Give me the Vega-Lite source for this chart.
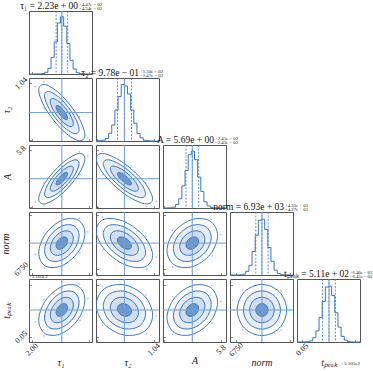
{
"$schema":"https://vega.github.io/schema/vega-lite/v6.json",
"autosize":{"type":"pad"},
"padding":{"left":0,"top":0,"right":16,"bottom":0},
"background":"white",
"columns":5,"spacing":4,"bounds":"flush",
"config":{
 "view":{"stroke":"#555","strokeWidth":1},
 "axis":{"domain":false,"grid":false,"tickColor":"#444","tickWidth":0.6,"tickSize":-2.5,"labelFont":"Liberation Serif","labelFontSize":8,"labelColor":"#222","labelAngle":-45,"labelAlign":"center","labelBaseline":"middle","titleFont":"Liberation Serif","titleFontSize":10,"titleFontWeight":"normal","titleFontStyle":"italic","titleColor":"#222","labelOverlap":false,"labelBound":false,"labelFlush":false},
 "axisX":{"labelPadding":10,"titlePadding":0},
 "axisY":{"labelPadding":10.5,"titlePadding":2},
 "text":{"font":"Liberation Serif","color":"#111"}
},
"datasets":{
"stats":[
{"p":"t1","kind":"q","v":2.1866},{"p":"t1","kind":"q","v":2.23},{"p":"t1","kind":"q","v":2.2747},{"p":"t1","kind":"t","v":2.23},
{"p":"t2","kind":"q","v":0.9633},{"p":"t2","kind":"q","v":0.978},{"p":"t2","kind":"q","v":0.993},{"p":"t2","kind":"t","v":0.978},
{"p":"A","kind":"q","v":5.6657},{"p":"A","kind":"q","v":5.69},{"p":"A","kind":"q","v":5.7145},{"p":"A","kind":"t","v":5.69},
{"p":"norm","kind":"q","v":6887.3},{"p":"norm","kind":"q","v":6930},{"p":"norm","kind":"q","v":6973.3},{"p":"norm","kind":"t","v":6930},
{"p":"tp","kind":"q","v":0.07055},{"p":"tp","kind":"q","v":0.077},{"p":"tp","kind":"q","v":0.0834},{"p":"tp","kind":"t","v":0.077}
],
"hist":[
{"p":"t1","x":1.98,"n":0},{"p":"t1","x":2.004,"n":0},{"p":"t1","x":2.028,"n":2},{"p":"t1","x":2.052,"n":3},{"p":"t1","x":2.076,"n":8},{"p":"t1","x":2.1,"n":30},{"p":"t1","x":2.124,"n":98},{"p":"t1","x":2.148,"n":290},{"p":"t1","x":2.172,"n":560},{"p":"t1","x":2.196,"n":890},{"p":"t1","x":2.22,"n":1000},{"p":"t1","x":2.244,"n":835},{"p":"t1","x":2.268,"n":530},{"p":"t1","x":2.292,"n":240},{"p":"t1","x":2.316,"n":88},{"p":"t1","x":2.34,"n":22},{"p":"t1","x":2.364,"n":6},{"p":"t1","x":2.388,"n":1},{"p":"t1","x":2.412,"n":0},{"p":"t1","x":2.436,"n":0},{"p":"t1","x":2.46,"n":0},
{"p":"t2","x":0.918,"n":2},{"p":"t2","x":0.92465,"n":3},{"p":"t2","x":0.9313,"n":15},{"p":"t2","x":0.93795,"n":44},{"p":"t2","x":0.9446,"n":135},{"p":"t2","x":0.95125,"n":280},{"p":"t2","x":0.9579,"n":540},{"p":"t2","x":0.96455,"n":775},{"p":"t2","x":0.9712,"n":985},{"p":"t2","x":0.97785,"n":960},{"p":"t2","x":0.9845,"n":820},{"p":"t2","x":0.99115,"n":540},{"p":"t2","x":0.9978,"n":310},{"p":"t2","x":1.00445,"n":130},{"p":"t2","x":1.0111,"n":55},{"p":"t2","x":1.01775,"n":14},{"p":"t2","x":1.0244,"n":5},{"p":"t2","x":1.03105,"n":1},{"p":"t2","x":1.0377,"n":0},{"p":"t2","x":1.04435,"n":0},{"p":"t2","x":1.051,"n":0},
{"p":"A","x":5.577,"n":0},{"p":"A","x":5.58915,"n":1},{"p":"A","x":5.6013,"n":4},{"p":"A","x":5.61345,"n":14},{"p":"A","x":5.6256,"n":60},{"p":"A","x":5.63775,"n":160},{"p":"A","x":5.6499,"n":385},{"p":"A","x":5.66205,"n":655},{"p":"A","x":5.6742,"n":930},{"p":"A","x":5.68635,"n":990},{"p":"A","x":5.6985,"n":845},{"p":"A","x":5.71065,"n":540},{"p":"A","x":5.7228,"n":290},{"p":"A","x":5.73495,"n":108},{"p":"A","x":5.7471,"n":37},{"p":"A","x":5.75925,"n":9},{"p":"A","x":5.7714,"n":2},{"p":"A","x":5.78355,"n":0},{"p":"A","x":5.7957,"n":0},{"p":"A","x":5.80785,"n":0},{"p":"A","x":5.82,"n":0},
{"p":"norm","x":6708,"n":0},{"p":"norm","x":6729.9,"n":0},{"p":"norm","x":6751.8,"n":1},{"p":"norm","x":6773.7,"n":4},{"p":"norm","x":6795.6,"n":15},{"p":"norm","x":6817.5,"n":64},{"p":"norm","x":6839.4,"n":170},{"p":"norm","x":6861.3,"n":410},{"p":"norm","x":6883.2,"n":695},{"p":"norm","x":6905.1,"n":955},{"p":"norm","x":6927,"n":975},{"p":"norm","x":6948.9,"n":795},{"p":"norm","x":6970.8,"n":480},{"p":"norm","x":6992.7,"n":240},{"p":"norm","x":7014.6,"n":85},{"p":"norm","x":7036.5,"n":27},{"p":"norm","x":7058.4,"n":5},{"p":"norm","x":7080.3,"n":1},{"p":"norm","x":7102.2,"n":0},{"p":"norm","x":7124.1,"n":0},{"p":"norm","x":7146,"n":0},
{"p":"tp","x":0.045,"n":0},{"p":"tp","x":0.04815,"n":0},{"p":"tp","x":0.0513,"n":2},{"p":"tp","x":0.05445,"n":5},{"p":"tp","x":0.0576,"n":20},{"p":"tp","x":0.06075,"n":75},{"p":"tp","x":0.0639,"n":195},{"p":"tp","x":0.06705,"n":430},{"p":"tp","x":0.0702,"n":705},{"p":"tp","x":0.07335,"n":960},{"p":"tp","x":0.0765,"n":975},{"p":"tp","x":0.07965,"n":810},{"p":"tp","x":0.0828,"n":510},{"p":"tp","x":0.08595,"n":260},{"p":"tp","x":0.0891,"n":98},{"p":"tp","x":0.09225,"n":33},{"p":"tp","x":0.0954,"n":7},{"p":"tp","x":0.09855,"n":1},{"p":"tp","x":0.1017,"n":0},{"p":"tp","x":0.10485,"n":0},{"p":"tp","x":0.108,"n":0}
],
"pts":[
{"pr":"12","x":2.428,"y":0.9244},{"pr":"12","x":2.3638,"y":0.9689},{"pr":"12","x":2.23,"y":1.0209},{"pr":"12","x":2.0931,"y":1.0429},{"pr":"12","x":2.0276,"y":1.0328},{"pr":"12","x":2.0947,"y":0.9872},{"pr":"12","x":2.23,"y":0.936},{"pr":"12","x":2.3684,"y":0.9124},
{"pr":"13","x":2.428,"y":5.7778},{"pr":"13","x":2.3638,"y":5.7939},{"pr":"13","x":2.23,"y":5.7603},{"pr":"13","x":2.0931,"y":5.6748},{"pr":"13","x":2.0276,"y":5.6002},{"pr":"13","x":2.0947,"y":5.5849},{"pr":"13","x":2.23,"y":5.6212},{"pr":"13","x":2.3684,"y":5.7054},
{"pr":"23","x":1.0451,"y":5.6022},{"pr":"23","x":1.0233,"y":5.6752},{"pr":"23","x":0.978,"y":5.7603},{"pr":"23","x":0.9316,"y":5.7963},{"pr":"23","x":0.9322,"y":5.705},{"pr":"23","x":0.978,"y":5.6212},{"pr":"23","x":1.0249,"y":5.5825},
{"pr":"14","x":2.428,"y":7007.4},{"pr":"14","x":2.3638,"y":7102.1},{"pr":"14","x":2.23,"y":7119.2},{"pr":"14","x":2.0931,"y":6999.1},{"pr":"14","x":2.0276,"y":6850.9},{"pr":"14","x":2.0947,"y":6755.9},{"pr":"14","x":2.23,"y":6744.8},{"pr":"14","x":2.3684,"y":6860.1},
{"pr":"24","x":1.0451,"y":6833.2},{"pr":"24","x":1.0233,"y":6977.9},{"pr":"24","x":0.978,"y":7108.8},{"pr":"24","x":0.9316,"y":7112.7},{"pr":"24","x":0.9322,"y":6881.6},{"pr":"24","x":0.978,"y":6755},{"pr":"24","x":1.0249,"y":6745.2},
{"pr":"34","x":5.7998,"y":6988.1},{"pr":"34","x":5.7642,"y":7093.9},{"pr":"34","x":5.69,"y":7126.9},{"pr":"34","x":5.6141,"y":7017.5},{"pr":"34","x":5.5778,"y":6870.7},{"pr":"34","x":5.615,"y":6764.2},{"pr":"34","x":5.69,"y":6737.2},{"pr":"34","x":5.7668,"y":6841.5},
{"pr":"15","x":2.428,"y":0.08852},{"pr":"15","x":2.3638,"y":0.10262},{"pr":"15","x":2.23,"y":0.10516},{"pr":"15","x":2.0931,"y":0.08728},{"pr":"15","x":2.0276,"y":0.06522},{"pr":"15","x":2.0947,"y":0.05108},{"pr":"15","x":2.23,"y":0.04943},{"pr":"15","x":2.3684,"y":0.0666},
{"pr":"25","x":1.0451,"y":0.07124},{"pr":"25","x":1.0233,"y":0.09217},{"pr":"25","x":0.978,"y":0.1071},{"pr":"25","x":0.9316,"y":0.10049},{"pr":"25","x":0.9322,"y":0.06165},{"pr":"25","x":0.978,"y":0.04753},{"pr":"25","x":1.0249,"y":0.05324},
{"pr":"35","x":5.7998,"y":0.08564},{"pr":"35","x":5.7642,"y":0.1014},{"pr":"35","x":5.69,"y":0.1063},{"pr":"35","x":5.6141,"y":0.09002},{"pr":"35","x":5.5778,"y":0.06817},{"pr":"35","x":5.615,"y":0.05232},{"pr":"35","x":5.69,"y":0.04831},{"pr":"35","x":5.7668,"y":0.06383},
{"pr":"45","x":7123.5,"y":0.077},{"pr":"45","x":7060.8,"y":0.09646},{"pr":"45","x":6930,"y":0.10772},{"pr":"45","x":6796.2,"y":0.09691},{"pr":"45","x":6732.2,"y":0.077},{"pr":"45","x":6797.7,"y":0.05732},{"pr":"45","x":6930,"y":0.04692},{"pr":"45","x":7065.3,"y":0.05686}
],
"ell":[
{"pr":"12","r":1,"k":0,"x":2.274,"y":0.9661},{"pr":"12","r":1,"k":1,"x":2.2611,"y":0.9759},{"pr":"12","r":1,"k":2,"x":2.23,"y":0.9869},{"pr":"12","r":1,"k":3,"x":2.1989,"y":0.9928},{"pr":"12","r":1,"k":4,"x":2.186,"y":0.9899},{"pr":"12","r":1,"k":5,"x":2.1989,"y":0.9801},{"pr":"12","r":1,"k":6,"x":2.23,"y":0.9691},{"pr":"12","r":1,"k":7,"x":2.2611,"y":0.9633},
{"pr":"12","r":2,"k":0,"x":2.318,"y":0.9542},{"pr":"12","r":2,"k":1,"x":2.2922,"y":0.9738},{"pr":"12","r":2,"k":2,"x":2.23,"y":0.9959},{"pr":"12","r":2,"k":3,"x":2.1678,"y":1.0075},{"pr":"12","r":2,"k":4,"x":2.142,"y":1.0018},{"pr":"12","r":2,"k":5,"x":2.1678,"y":0.9822},{"pr":"12","r":2,"k":6,"x":2.23,"y":0.9601},{"pr":"12","r":2,"k":7,"x":2.2922,"y":0.9485},
{"pr":"12","r":3,"k":0,"x":2.362,"y":0.9422},{"pr":"12","r":3,"k":1,"x":2.3233,"y":0.9717},{"pr":"12","r":3,"k":2,"x":2.23,"y":1.0048},{"pr":"12","r":3,"k":3,"x":2.1367,"y":1.0223},{"pr":"12","r":3,"k":4,"x":2.098,"y":1.0138},{"pr":"12","r":3,"k":5,"x":2.1367,"y":0.9843},{"pr":"12","r":3,"k":6,"x":2.23,"y":0.9512},{"pr":"12","r":3,"k":7,"x":2.3233,"y":0.9338},
{"pr":"12","r":4,"k":0,"x":2.406,"y":0.9303},{"pr":"12","r":4,"k":1,"x":2.3544,"y":0.9696},{"pr":"12","r":4,"k":2,"x":2.23,"y":1.0138},{"pr":"12","r":4,"k":3,"x":2.1056,"y":1.037},{"pr":"12","r":4,"k":4,"x":2.054,"y":1.0257},{"pr":"12","r":4,"k":5,"x":2.1056,"y":0.9864},{"pr":"12","r":4,"k":6,"x":2.23,"y":0.9422},{"pr":"12","r":4,"k":7,"x":2.3544,"y":0.919},
{"pr":"13","r":1,"k":0,"x":2.274,"y":5.7095},{"pr":"13","r":1,"k":1,"x":2.2611,"y":5.7142},{"pr":"13","r":1,"k":2,"x":2.23,"y":5.7046},{"pr":"13","r":1,"k":3,"x":2.1989,"y":5.6866},{"pr":"13","r":1,"k":4,"x":2.186,"y":5.6705},{"pr":"13","r":1,"k":5,"x":2.1989,"y":5.6658},{"pr":"13","r":1,"k":6,"x":2.23,"y":5.6754},{"pr":"13","r":1,"k":7,"x":2.2611,"y":5.6935},
{"pr":"13","r":2,"k":0,"x":2.318,"y":5.729},{"pr":"13","r":2,"k":1,"x":2.2922,"y":5.7383},{"pr":"13","r":2,"k":2,"x":2.23,"y":5.7193},{"pr":"13","r":2,"k":3,"x":2.1678,"y":5.6831},{"pr":"13","r":2,"k":4,"x":2.142,"y":5.651},{"pr":"13","r":2,"k":5,"x":2.1678,"y":5.6417},{"pr":"13","r":2,"k":6,"x":2.23,"y":5.6607},{"pr":"13","r":2,"k":7,"x":2.2922,"y":5.6969},
{"pr":"13","r":3,"k":0,"x":2.362,"y":5.7486},{"pr":"13","r":3,"k":1,"x":2.3233,"y":5.7625},{"pr":"13","r":3,"k":2,"x":2.23,"y":5.7339},{"pr":"13","r":3,"k":3,"x":2.1367,"y":5.6797},{"pr":"13","r":3,"k":4,"x":2.098,"y":5.6314},{"pr":"13","r":3,"k":5,"x":2.1367,"y":5.6175},{"pr":"13","r":3,"k":6,"x":2.23,"y":5.6461},{"pr":"13","r":3,"k":7,"x":2.3233,"y":5.7004},
{"pr":"13","r":4,"k":0,"x":2.406,"y":5.7681},{"pr":"13","r":4,"k":1,"x":2.3544,"y":5.7866},{"pr":"13","r":4,"k":2,"x":2.23,"y":5.7486},{"pr":"13","r":4,"k":3,"x":2.1056,"y":5.6762},{"pr":"13","r":4,"k":4,"x":2.054,"y":5.6119},{"pr":"13","r":4,"k":5,"x":2.1056,"y":5.5934},{"pr":"13","r":4,"k":6,"x":2.23,"y":5.6314},{"pr":"13","r":4,"k":7,"x":2.3544,"y":5.7038},
{"pr":"23","r":1,"k":0,"x":0.9929,"y":5.6705},{"pr":"23","r":1,"k":1,"x":0.9885,"y":5.6866},{"pr":"23","r":1,"k":2,"x":0.978,"y":5.7046},{"pr":"23","r":1,"k":3,"x":0.9675,"y":5.7142},{"pr":"23","r":1,"k":4,"x":0.9631,"y":5.7095},{"pr":"23","r":1,"k":5,"x":0.9675,"y":5.6934},{"pr":"23","r":1,"k":6,"x":0.978,"y":5.6754},{"pr":"23","r":1,"k":7,"x":0.9885,"y":5.6658},
{"pr":"23","r":2,"k":0,"x":1.0078,"y":5.651},{"pr":"23","r":2,"k":1,"x":0.9991,"y":5.6831},{"pr":"23","r":2,"k":2,"x":0.978,"y":5.7193},{"pr":"23","r":2,"k":3,"x":0.9569,"y":5.7383},{"pr":"23","r":2,"k":4,"x":0.9482,"y":5.729},{"pr":"23","r":2,"k":5,"x":0.9569,"y":5.6969},{"pr":"23","r":2,"k":6,"x":0.978,"y":5.6607},{"pr":"23","r":2,"k":7,"x":0.9991,"y":5.6417},
{"pr":"23","r":3,"k":0,"x":1.0227,"y":5.6314},{"pr":"23","r":3,"k":1,"x":1.0096,"y":5.6797},{"pr":"23","r":3,"k":2,"x":0.978,"y":5.7339},{"pr":"23","r":3,"k":3,"x":0.9464,"y":5.7625},{"pr":"23","r":3,"k":4,"x":0.9333,"y":5.7486},{"pr":"23","r":3,"k":5,"x":0.9464,"y":5.7004},{"pr":"23","r":3,"k":6,"x":0.978,"y":5.6461},{"pr":"23","r":3,"k":7,"x":1.0096,"y":5.6175},
{"pr":"23","r":4,"k":0,"x":1.0376,"y":5.6119},{"pr":"23","r":4,"k":1,"x":1.0202,"y":5.6762},{"pr":"23","r":4,"k":2,"x":0.978,"y":5.7486},{"pr":"23","r":4,"k":3,"x":0.9358,"y":5.7866},{"pr":"23","r":4,"k":4,"x":0.9184,"y":5.7681},{"pr":"23","r":4,"k":5,"x":0.9358,"y":5.7038},{"pr":"23","r":4,"k":6,"x":0.978,"y":5.6314},{"pr":"23","r":4,"k":7,"x":1.0202,"y":5.5934},
{"pr":"14","r":1,"k":0,"x":2.274,"y":6947.2},{"pr":"14","r":1,"k":1,"x":2.2611,"y":6970},{"pr":"14","r":1,"k":2,"x":2.23,"y":6969.4},{"pr":"14","r":1,"k":3,"x":2.1989,"y":6945.7},{"pr":"14","r":1,"k":4,"x":2.186,"y":6912.8},{"pr":"14","r":1,"k":5,"x":2.1989,"y":6890},{"pr":"14","r":1,"k":6,"x":2.23,"y":6890.6},{"pr":"14","r":1,"k":7,"x":2.2611,"y":6914.3},
{"pr":"14","r":2,"k":0,"x":2.318,"y":6964.4},{"pr":"14","r":2,"k":1,"x":2.2922,"y":7010.1},{"pr":"14","r":2,"k":2,"x":2.23,"y":7008.8},{"pr":"14","r":2,"k":3,"x":2.1678,"y":6961.4},{"pr":"14","r":2,"k":4,"x":2.142,"y":6895.6},{"pr":"14","r":2,"k":5,"x":2.1678,"y":6849.9},{"pr":"14","r":2,"k":6,"x":2.23,"y":6851.2},{"pr":"14","r":2,"k":7,"x":2.2922,"y":6898.6},
{"pr":"14","r":3,"k":0,"x":2.362,"y":6981.6},{"pr":"14","r":3,"k":1,"x":2.3233,"y":7050.1},{"pr":"14","r":3,"k":2,"x":2.23,"y":7048.2},{"pr":"14","r":3,"k":3,"x":2.1367,"y":6977.1},{"pr":"14","r":3,"k":4,"x":2.098,"y":6878.4},{"pr":"14","r":3,"k":5,"x":2.1367,"y":6809.9},{"pr":"14","r":3,"k":6,"x":2.23,"y":6811.8},{"pr":"14","r":3,"k":7,"x":2.3233,"y":6882.9},
{"pr":"14","r":4,"k":0,"x":2.406,"y":6998.8},{"pr":"14","r":4,"k":1,"x":2.3544,"y":7090.1},{"pr":"14","r":4,"k":2,"x":2.23,"y":7087.6},{"pr":"14","r":4,"k":3,"x":2.1056,"y":6992.8},{"pr":"14","r":4,"k":4,"x":2.054,"y":6861.2},{"pr":"14","r":4,"k":5,"x":2.1056,"y":6769.9},{"pr":"14","r":4,"k":6,"x":2.23,"y":6772.4},{"pr":"14","r":4,"k":7,"x":2.3544,"y":6867.2},
{"pr":"24","r":1,"k":0,"x":0.9929,"y":6908.5},{"pr":"24","r":1,"k":1,"x":0.9885,"y":6941.1},{"pr":"24","r":1,"k":2,"x":0.978,"y":6967.2},{"pr":"24","r":1,"k":3,"x":0.9675,"y":6971.5},{"pr":"24","r":1,"k":4,"x":0.9631,"y":6951.5},{"pr":"24","r":1,"k":5,"x":0.9675,"y":6918.9},{"pr":"24","r":1,"k":6,"x":0.978,"y":6892.8},{"pr":"24","r":1,"k":7,"x":0.9885,"y":6888.5},
{"pr":"24","r":2,"k":0,"x":1.0078,"y":6887},{"pr":"24","r":2,"k":1,"x":0.9991,"y":6952.3},{"pr":"24","r":2,"k":2,"x":0.978,"y":7004.5},{"pr":"24","r":2,"k":3,"x":0.9569,"y":7013.1},{"pr":"24","r":2,"k":4,"x":0.9482,"y":6973},{"pr":"24","r":2,"k":5,"x":0.9569,"y":6907.7},{"pr":"24","r":2,"k":6,"x":0.978,"y":6855.5},{"pr":"24","r":2,"k":7,"x":0.9991,"y":6846.9},
{"pr":"24","r":3,"k":0,"x":1.0227,"y":6865.5},{"pr":"24","r":3,"k":1,"x":1.0096,"y":6963.4},{"pr":"24","r":3,"k":2,"x":0.978,"y":7041.7},{"pr":"24","r":3,"k":3,"x":0.9464,"y":7054.6},{"pr":"24","r":3,"k":4,"x":0.9333,"y":6994.5},{"pr":"24","r":3,"k":5,"x":0.9464,"y":6896.6},{"pr":"24","r":3,"k":6,"x":0.978,"y":6818.3},{"pr":"24","r":3,"k":7,"x":1.0096,"y":6805.4},
{"pr":"24","r":4,"k":0,"x":1.0376,"y":6844},{"pr":"24","r":4,"k":1,"x":1.0202,"y":6974.5},{"pr":"24","r":4,"k":2,"x":0.978,"y":7079},{"pr":"24","r":4,"k":3,"x":0.9358,"y":7096.1},{"pr":"24","r":4,"k":4,"x":0.9184,"y":7016},{"pr":"24","r":4,"k":5,"x":0.9358,"y":6885.5},{"pr":"24","r":4,"k":6,"x":0.978,"y":6781},{"pr":"24","r":4,"k":7,"x":1.0202,"y":6763.9},
{"pr":"34","r":1,"k":0,"x":5.7144,"y":6942.9},{"pr":"34","r":1,"k":1,"x":5.7073,"y":6968.1},{"pr":"34","r":1,"k":2,"x":5.69,"y":6971},{"pr":"34","r":1,"k":3,"x":5.6728,"y":6949.9},{"pr":"34","r":1,"k":4,"x":5.6656,"y":6917.1},{"pr":"34","r":1,"k":5,"x":5.6728,"y":6891.9},{"pr":"34","r":1,"k":6,"x":5.69,"y":6889},{"pr":"34","r":1,"k":7,"x":5.7073,"y":6910.1},
{"pr":"34","r":2,"k":0,"x":5.7388,"y":6955.8},{"pr":"34","r":2,"k":1,"x":5.7245,"y":7006.2},{"pr":"34","r":2,"k":2,"x":5.69,"y":7012},{"pr":"34","r":2,"k":3,"x":5.6555,"y":6969.8},{"pr":"34","r":2,"k":4,"x":5.6412,"y":6904.2},{"pr":"34","r":2,"k":5,"x":5.6555,"y":6853.8},{"pr":"34","r":2,"k":6,"x":5.69,"y":6848},{"pr":"34","r":2,"k":7,"x":5.7245,"y":6890.2},
{"pr":"34","r":3,"k":0,"x":5.7632,"y":6968.7},{"pr":"34","r":3,"k":1,"x":5.7418,"y":7044.4},{"pr":"34","r":3,"k":2,"x":5.69,"y":7053.1},{"pr":"34","r":3,"k":3,"x":5.6383,"y":6989.6},{"pr":"34","r":3,"k":4,"x":5.6168,"y":6891.3},{"pr":"34","r":3,"k":5,"x":5.6383,"y":6815.6},{"pr":"34","r":3,"k":6,"x":5.69,"y":6806.9},{"pr":"34","r":3,"k":7,"x":5.7418,"y":6870.4},
{"pr":"34","r":4,"k":0,"x":5.7876,"y":6981.6},{"pr":"34","r":4,"k":1,"x":5.759,"y":7082.5},{"pr":"34","r":4,"k":2,"x":5.69,"y":7094.1},{"pr":"34","r":4,"k":3,"x":5.621,"y":7009.5},{"pr":"34","r":4,"k":4,"x":5.5924,"y":6878.4},{"pr":"34","r":4,"k":5,"x":5.621,"y":6777.5},{"pr":"34","r":4,"k":6,"x":5.69,"y":6765.9},{"pr":"34","r":4,"k":7,"x":5.759,"y":6850.5},
{"pr":"15","r":1,"k":0,"x":2.274,"y":0.07956},{"pr":"15","r":1,"k":1,"x":2.2611,"y":0.08296},{"pr":"15","r":1,"k":2,"x":2.23,"y":0.08287},{"pr":"15","r":1,"k":3,"x":2.1989,"y":0.07934},{"pr":"15","r":1,"k":4,"x":2.186,"y":0.07444},{"pr":"15","r":1,"k":5,"x":2.1989,"y":0.07104},{"pr":"15","r":1,"k":6,"x":2.23,"y":0.07113},{"pr":"15","r":1,"k":7,"x":2.2611,"y":0.07466},
{"pr":"15","r":2,"k":0,"x":2.318,"y":0.08212},{"pr":"15","r":2,"k":1,"x":2.2922,"y":0.08892},{"pr":"15","r":2,"k":2,"x":2.23,"y":0.08873},{"pr":"15","r":2,"k":3,"x":2.1678,"y":0.08167},{"pr":"15","r":2,"k":4,"x":2.142,"y":0.07188},{"pr":"15","r":2,"k":5,"x":2.1678,"y":0.06508},{"pr":"15","r":2,"k":6,"x":2.23,"y":0.06527},{"pr":"15","r":2,"k":7,"x":2.2922,"y":0.07233},
{"pr":"15","r":3,"k":0,"x":2.362,"y":0.08468},{"pr":"15","r":3,"k":1,"x":2.3233,"y":0.09487},{"pr":"15","r":3,"k":2,"x":2.23,"y":0.0946},{"pr":"15","r":3,"k":3,"x":2.1367,"y":0.08401},{"pr":"15","r":3,"k":4,"x":2.098,"y":0.06932},{"pr":"15","r":3,"k":5,"x":2.1367,"y":0.05913},{"pr":"15","r":3,"k":6,"x":2.23,"y":0.0594},{"pr":"15","r":3,"k":7,"x":2.3233,"y":0.06999},
{"pr":"15","r":4,"k":0,"x":2.406,"y":0.08724},{"pr":"15","r":4,"k":1,"x":2.3544,"y":0.10083},{"pr":"15","r":4,"k":2,"x":2.23,"y":0.10046},{"pr":"15","r":4,"k":3,"x":2.1056,"y":0.08635},{"pr":"15","r":4,"k":4,"x":2.054,"y":0.06676},{"pr":"15","r":4,"k":5,"x":2.1056,"y":0.05317},{"pr":"15","r":4,"k":6,"x":2.23,"y":0.05354},{"pr":"15","r":4,"k":7,"x":2.3544,"y":0.06765},
{"pr":"25","r":1,"k":0,"x":0.9929,"y":0.07572},{"pr":"25","r":1,"k":1,"x":0.9885,"y":0.08053},{"pr":"25","r":1,"k":2,"x":0.978,"y":0.08327},{"pr":"25","r":1,"k":3,"x":0.9675,"y":0.08234},{"pr":"25","r":1,"k":4,"x":0.9631,"y":0.07828},{"pr":"25","r":1,"k":5,"x":0.9675,"y":0.07347},{"pr":"25","r":1,"k":6,"x":0.978,"y":0.07073},{"pr":"25","r":1,"k":7,"x":0.9885,"y":0.07166},
{"pr":"25","r":2,"k":0,"x":1.0078,"y":0.07444},{"pr":"25","r":2,"k":1,"x":0.9991,"y":0.08406},{"pr":"25","r":2,"k":2,"x":0.978,"y":0.08954},{"pr":"25","r":2,"k":3,"x":0.9569,"y":0.08768},{"pr":"25","r":2,"k":4,"x":0.9482,"y":0.07956},{"pr":"25","r":2,"k":5,"x":0.9569,"y":0.06994},{"pr":"25","r":2,"k":6,"x":0.978,"y":0.06446},{"pr":"25","r":2,"k":7,"x":0.9991,"y":0.06632},
{"pr":"25","r":3,"k":0,"x":1.0227,"y":0.07316},{"pr":"25","r":3,"k":1,"x":1.0096,"y":0.08759},{"pr":"25","r":3,"k":2,"x":0.978,"y":0.09581},{"pr":"25","r":3,"k":3,"x":0.9464,"y":0.09302},{"pr":"25","r":3,"k":4,"x":0.9333,"y":0.08084},{"pr":"25","r":3,"k":5,"x":0.9464,"y":0.06641},{"pr":"25","r":3,"k":6,"x":0.978,"y":0.05819},{"pr":"25","r":3,"k":7,"x":1.0096,"y":0.06098},
{"pr":"25","r":4,"k":0,"x":1.0376,"y":0.07188},{"pr":"25","r":4,"k":1,"x":1.0202,"y":0.09112},{"pr":"25","r":4,"k":2,"x":0.978,"y":0.10208},{"pr":"25","r":4,"k":3,"x":0.9358,"y":0.09836},{"pr":"25","r":4,"k":4,"x":0.9184,"y":0.08212},{"pr":"25","r":4,"k":5,"x":0.9358,"y":0.06288},{"pr":"25","r":4,"k":6,"x":0.978,"y":0.05192},{"pr":"25","r":4,"k":7,"x":1.0202,"y":0.05564},
{"pr":"35","r":1,"k":0,"x":5.7144,"y":0.07892},{"pr":"35","r":1,"k":1,"x":5.7073,"y":0.08267},{"pr":"35","r":1,"k":2,"x":5.69,"y":0.08311},{"pr":"35","r":1,"k":3,"x":5.6728,"y":0.07996},{"pr":"35","r":1,"k":4,"x":5.6656,"y":0.07508},{"pr":"35","r":1,"k":5,"x":5.6728,"y":0.07133},{"pr":"35","r":1,"k":6,"x":5.69,"y":0.0709},{"pr":"35","r":1,"k":7,"x":5.7073,"y":0.07404},
{"pr":"35","r":2,"k":0,"x":5.7388,"y":0.08084},{"pr":"35","r":2,"k":1,"x":5.7245,"y":0.08835},{"pr":"35","r":2,"k":2,"x":5.69,"y":0.08921},{"pr":"35","r":2,"k":3,"x":5.6555,"y":0.08292},{"pr":"35","r":2,"k":4,"x":5.6412,"y":0.07316},{"pr":"35","r":2,"k":5,"x":5.6555,"y":0.06565},{"pr":"35","r":2,"k":6,"x":5.69,"y":0.06479},{"pr":"35","r":2,"k":7,"x":5.7245,"y":0.07108},
{"pr":"35","r":3,"k":0,"x":5.7632,"y":0.08276},{"pr":"35","r":3,"k":1,"x":5.7418,"y":0.09402},{"pr":"35","r":3,"k":2,"x":5.69,"y":0.09532},{"pr":"35","r":3,"k":3,"x":5.6383,"y":0.08588},{"pr":"35","r":3,"k":4,"x":5.6168,"y":0.07124},{"pr":"35","r":3,"k":5,"x":5.6383,"y":0.05998},{"pr":"35","r":3,"k":6,"x":5.69,"y":0.05869},{"pr":"35","r":3,"k":7,"x":5.7418,"y":0.06812},
{"pr":"35","r":4,"k":0,"x":5.7876,"y":0.08468},{"pr":"35","r":4,"k":1,"x":5.759,"y":0.0997},{"pr":"35","r":4,"k":2,"x":5.69,"y":0.10142},{"pr":"35","r":4,"k":3,"x":5.621,"y":0.08884},{"pr":"35","r":4,"k":4,"x":5.5924,"y":0.06932},{"pr":"35","r":4,"k":5,"x":5.621,"y":0.0543},{"pr":"35","r":4,"k":6,"x":5.69,"y":0.05258},{"pr":"35","r":4,"k":7,"x":5.759,"y":0.06516},
{"pr":"45","r":1,"k":0,"x":6973,"y":0.077},{"pr":"45","r":1,"k":1,"x":6960.4,"y":0.08153},{"pr":"45","r":1,"k":2,"x":6930,"y":0.0834},{"pr":"45","r":1,"k":3,"x":6899.6,"y":0.08153},{"pr":"45","r":1,"k":4,"x":6887,"y":0.077},{"pr":"45","r":1,"k":5,"x":6899.6,"y":0.07248},{"pr":"45","r":1,"k":6,"x":6930,"y":0.0706},{"pr":"45","r":1,"k":7,"x":6960.4,"y":0.07248},
{"pr":"45","r":2,"k":0,"x":7016,"y":0.077},{"pr":"45","r":2,"k":1,"x":6990.8,"y":0.08605},{"pr":"45","r":2,"k":2,"x":6930,"y":0.0898},{"pr":"45","r":2,"k":3,"x":6869.2,"y":0.08605},{"pr":"45","r":2,"k":4,"x":6844,"y":0.077},{"pr":"45","r":2,"k":5,"x":6869.2,"y":0.06795},{"pr":"45","r":2,"k":6,"x":6930,"y":0.0642},{"pr":"45","r":2,"k":7,"x":6990.8,"y":0.06795},
{"pr":"45","r":3,"k":0,"x":7059,"y":0.077},{"pr":"45","r":3,"k":1,"x":7021.2,"y":0.09058},{"pr":"45","r":3,"k":2,"x":6930,"y":0.0962},{"pr":"45","r":3,"k":3,"x":6838.8,"y":0.09058},{"pr":"45","r":3,"k":4,"x":6801,"y":0.077},{"pr":"45","r":3,"k":5,"x":6838.8,"y":0.06343},{"pr":"45","r":3,"k":6,"x":6930,"y":0.0578},{"pr":"45","r":3,"k":7,"x":7021.2,"y":0.06343},
{"pr":"45","r":4,"k":0,"x":7102,"y":0.077},{"pr":"45","r":4,"k":1,"x":7051.6,"y":0.0951},{"pr":"45","r":4,"k":2,"x":6930,"y":0.1026},{"pr":"45","r":4,"k":3,"x":6808.4,"y":0.0951},{"pr":"45","r":4,"k":4,"x":6758,"y":0.077},{"pr":"45","r":4,"k":5,"x":6808.4,"y":0.0589},{"pr":"45","r":4,"k":6,"x":6930,"y":0.0514},{"pr":"45","r":4,"k":7,"x":7051.6,"y":0.0589}
]
},
"concat":[
{"width":63,"height":63,"layer":[
 {"data":{"name":"hist"},"transform":[{"filter":"datum.p=='t1'"}],"mark":{"type":"line","interpolate":"step-after","color":"#3b77bd","strokeWidth":1},"encoding":{"x":{"field":"x","type":"quantitative","scale":{"domain":[1.98,2.46],"nice":false,"zero":false},"axis":{"values":[2,2.0625,2.125,2.1875,2.25,2.3125,2.375,2.4375],"labels":false,"title":null}},"y":{"field":"n","type":"quantitative","scale":{"domain":[0,1100],"nice":false},"axis":null}}},
 {"data":{"name":"stats"},"transform":[{"filter":"datum.p=='t1'&&datum.kind=='q'"}],"mark":{"type":"rule","color":"#3b77bd","strokeDash":[2,1.5],"strokeWidth":0.8},"encoding":{"x":{"field":"v","type":"quantitative"}}},
 {"data":{"name":"stats"},"transform":[{"filter":"datum.p=='t1'&&datum.kind=='t'"}],"mark":{"type":"rule","color":"#6f9fd6","strokeWidth":1},"encoding":{"x":{"field":"v","type":"quantitative"}}},
 {"data":{"values":[{}]},"mark":{"type":"text","text":"τ₁ = 2.23e + 00","align":"right","baseline":"alphabetic","dy":-2,"fontSize":9.5},"encoding":{"x":{"datum":2.353,"type":"quantitative"},"y":{"datum":1100,"type":"quantitative"}}},
 {"data":{"values":[{}]},"mark":{"type":"text","text":"+4.47e − 02","align":"left","baseline":"alphabetic","dx":1,"dy":-5.5,"fontSize":4.8},"encoding":{"x":{"datum":2.353,"type":"quantitative"},"y":{"datum":1100,"type":"quantitative"}}},
 {"data":{"values":[{}]},"mark":{"type":"text","text":"−4.34e − 02","align":"left","baseline":"alphabetic","dx":1,"dy":-1,"fontSize":4.8},"encoding":{"x":{"datum":2.353,"type":"quantitative"},"y":{"datum":1100,"type":"quantitative"}}}
]},
{"width":63,"height":63,"data":{"values":[{}]},"mark":{"type":"point","opacity":0},"view":{"stroke":null}},
{"width":63,"height":63,"data":{"values":[{}]},"mark":{"type":"point","opacity":0},"view":{"stroke":null}},
{"width":63,"height":63,"data":{"values":[{}]},"mark":{"type":"point","opacity":0},"view":{"stroke":null}},
{"width":63,"height":63,"data":{"values":[{}]},"mark":{"type":"point","opacity":0},"view":{"stroke":null}},

{"width":63,"height":63,"layer":[
 {"data":{"name":"ell"},"transform":[{"filter":"datum.pr=='12'&&datum.r<=3"}],"mark":{"type":"line","interpolate":"cardinal-closed","fill":"#2f6cb3","strokeWidth":0,"opacity":0.12,"clip":true},"encoding":{"x":{"field":"x","type":"quantitative","scale":{"domain":[1.98,2.46],"nice":false,"zero":false},"axis":{"values":[2,2.0625,2.125,2.1875,2.25,2.3125,2.375,2.4375],"labels":false,"title":null}},"y":{"field":"y","type":"quantitative","scale":{"domain":[0.918,1.051],"nice":false,"zero":false},"axis":{"values":[0.92,0.94,0.96,0.98,1,1.02,1.04],"labelExpr":"datum.value==0.96||datum.value==1.04?format(datum.value,'.2f'):''","title":"τ₂"}},"detail":{"field":"r","type":"nominal"},"order":{"field":"k","type":"quantitative"}}},
 {"data":{"name":"ell"},"transform":[{"filter":"datum.pr=='12'&&datum.r==1"}],"mark":{"type":"line","interpolate":"cardinal-closed","fill":"#2f6cb3","strokeWidth":0,"opacity":0.55,"clip":true},"encoding":{"x":{"field":"x","type":"quantitative"},"y":{"field":"y","type":"quantitative"},"order":{"field":"k","type":"quantitative"}}},
 {"data":{"name":"pts"},"transform":[{"filter":"datum.pr=='12'"}],"mark":{"type":"circle","size":3,"color":"#5b8fcc","opacity":0.5,"clip":true},"encoding":{"x":{"field":"x","type":"quantitative"},"y":{"field":"y","type":"quantitative"}}},
 {"data":{"name":"ell"},"transform":[{"filter":"datum.pr=='12'"}],"mark":{"type":"line","interpolate":"cardinal-closed","color":"#3b77bd","strokeWidth":1,"clip":true},"encoding":{"x":{"field":"x","type":"quantitative"},"y":{"field":"y","type":"quantitative"},"detail":{"field":"r","type":"nominal"},"order":{"field":"k","type":"quantitative"}}},
 {"data":{"values":[{}]},"mark":{"type":"rule","color":"#6f9fd6","strokeWidth":1},"encoding":{"x":{"datum":2.23,"type":"quantitative"}}},
 {"data":{"values":[{}]},"mark":{"type":"rule","color":"#6f9fd6","strokeWidth":1},"encoding":{"y":{"datum":0.978,"type":"quantitative"}}}
]},
{"width":63,"height":63,"layer":[
 {"data":{"name":"hist"},"transform":[{"filter":"datum.p=='t2'"}],"mark":{"type":"line","interpolate":"step-after","color":"#3b77bd","strokeWidth":1},"encoding":{"x":{"field":"x","type":"quantitative","scale":{"domain":[0.918,1.051],"nice":false,"zero":false},"axis":{"values":[0.92,0.94,0.96,0.98,1,1.02,1.04],"labels":false,"title":null}},"y":{"field":"n","type":"quantitative","scale":{"domain":[0,1100],"nice":false},"axis":null}}},
 {"data":{"name":"stats"},"transform":[{"filter":"datum.p=='t2'&&datum.kind=='q'"}],"mark":{"type":"rule","color":"#3b77bd","strokeDash":[2,1.5],"strokeWidth":0.8},"encoding":{"x":{"field":"v","type":"quantitative"}}},
 {"data":{"name":"stats"},"transform":[{"filter":"datum.p=='t2'&&datum.kind=='t'"}],"mark":{"type":"rule","color":"#6f9fd6","strokeWidth":1},"encoding":{"x":{"field":"v","type":"quantitative"}}},
 {"data":{"values":[{}]},"mark":{"type":"text","text":"τ₂ = 9.78e − 01","align":"right","baseline":"alphabetic","dy":-2,"fontSize":9.5},"encoding":{"x":{"datum":1.0088,"type":"quantitative"},"y":{"datum":1100,"type":"quantitative"}}},
 {"data":{"values":[{}]},"mark":{"type":"text","text":"+1.50e − 02","align":"left","baseline":"alphabetic","dx":1,"dy":-5.5,"fontSize":4.8},"encoding":{"x":{"datum":1.0088,"type":"quantitative"},"y":{"datum":1100,"type":"quantitative"}}},
 {"data":{"values":[{}]},"mark":{"type":"text","text":"−1.47e − 02","align":"left","baseline":"alphabetic","dx":1,"dy":-1,"fontSize":4.8},"encoding":{"x":{"datum":1.0088,"type":"quantitative"},"y":{"datum":1100,"type":"quantitative"}}}
]},
{"width":63,"height":63,"data":{"values":[{}]},"mark":{"type":"point","opacity":0},"view":{"stroke":null}},
{"width":63,"height":63,"data":{"values":[{}]},"mark":{"type":"point","opacity":0},"view":{"stroke":null}},
{"width":63,"height":63,"data":{"values":[{}]},"mark":{"type":"point","opacity":0},"view":{"stroke":null}},

{"width":63,"height":63,"layer":[
 {"data":{"name":"ell"},"transform":[{"filter":"datum.pr=='13'&&datum.r<=3"}],"mark":{"type":"line","interpolate":"cardinal-closed","fill":"#2f6cb3","strokeWidth":0,"opacity":0.12,"clip":true},"encoding":{"x":{"field":"x","type":"quantitative","scale":{"domain":[1.98,2.46],"nice":false,"zero":false},"axis":{"values":[2,2.0625,2.125,2.1875,2.25,2.3125,2.375,2.4375],"labels":false,"title":null}},"y":{"field":"y","type":"quantitative","scale":{"domain":[5.577,5.82],"nice":false,"zero":false},"axis":{"values":[5.58,5.6,5.62,5.64,5.66,5.68,5.7,5.72,5.74,5.76,5.78,5.8],"labelExpr":"datum.value==5.6||datum.value==5.7||datum.value==5.8?format(datum.value,'.1f'):''","title":"A"}},"detail":{"field":"r","type":"nominal"},"order":{"field":"k","type":"quantitative"}}},
 {"data":{"name":"ell"},"transform":[{"filter":"datum.pr=='13'&&datum.r==1"}],"mark":{"type":"line","interpolate":"cardinal-closed","fill":"#2f6cb3","strokeWidth":0,"opacity":0.55,"clip":true},"encoding":{"x":{"field":"x","type":"quantitative"},"y":{"field":"y","type":"quantitative"},"order":{"field":"k","type":"quantitative"}}},
 {"data":{"name":"pts"},"transform":[{"filter":"datum.pr=='13'"}],"mark":{"type":"circle","size":3,"color":"#5b8fcc","opacity":0.5,"clip":true},"encoding":{"x":{"field":"x","type":"quantitative"},"y":{"field":"y","type":"quantitative"}}},
 {"data":{"name":"ell"},"transform":[{"filter":"datum.pr=='13'"}],"mark":{"type":"line","interpolate":"cardinal-closed","color":"#3b77bd","strokeWidth":1,"clip":true},"encoding":{"x":{"field":"x","type":"quantitative"},"y":{"field":"y","type":"quantitative"},"detail":{"field":"r","type":"nominal"},"order":{"field":"k","type":"quantitative"}}},
 {"data":{"values":[{}]},"mark":{"type":"rule","color":"#6f9fd6","strokeWidth":1},"encoding":{"x":{"datum":2.23,"type":"quantitative"}}},
 {"data":{"values":[{}]},"mark":{"type":"rule","color":"#6f9fd6","strokeWidth":1},"encoding":{"y":{"datum":5.69,"type":"quantitative"}}}
]},
{"width":63,"height":63,"layer":[
 {"data":{"name":"ell"},"transform":[{"filter":"datum.pr=='23'&&datum.r<=3"}],"mark":{"type":"line","interpolate":"cardinal-closed","fill":"#2f6cb3","strokeWidth":0,"opacity":0.12,"clip":true},"encoding":{"x":{"field":"x","type":"quantitative","scale":{"domain":[0.918,1.051],"nice":false,"zero":false},"axis":{"values":[0.92,0.94,0.96,0.98,1,1.02,1.04],"labels":false,"title":null}},"y":{"field":"y","type":"quantitative","scale":{"domain":[5.577,5.82],"nice":false,"zero":false},"axis":{"values":[5.58,5.6,5.62,5.64,5.66,5.68,5.7,5.72,5.74,5.76,5.78,5.8],"labels":false,"title":null}},"detail":{"field":"r","type":"nominal"},"order":{"field":"k","type":"quantitative"}}},
 {"data":{"name":"ell"},"transform":[{"filter":"datum.pr=='23'&&datum.r==1"}],"mark":{"type":"line","interpolate":"cardinal-closed","fill":"#2f6cb3","strokeWidth":0,"opacity":0.55,"clip":true},"encoding":{"x":{"field":"x","type":"quantitative"},"y":{"field":"y","type":"quantitative"},"order":{"field":"k","type":"quantitative"}}},
 {"data":{"name":"pts"},"transform":[{"filter":"datum.pr=='23'"}],"mark":{"type":"circle","size":3,"color":"#5b8fcc","opacity":0.5,"clip":true},"encoding":{"x":{"field":"x","type":"quantitative"},"y":{"field":"y","type":"quantitative"}}},
 {"data":{"name":"ell"},"transform":[{"filter":"datum.pr=='23'"}],"mark":{"type":"line","interpolate":"cardinal-closed","color":"#3b77bd","strokeWidth":1,"clip":true},"encoding":{"x":{"field":"x","type":"quantitative"},"y":{"field":"y","type":"quantitative"},"detail":{"field":"r","type":"nominal"},"order":{"field":"k","type":"quantitative"}}},
 {"data":{"values":[{}]},"mark":{"type":"rule","color":"#6f9fd6","strokeWidth":1},"encoding":{"x":{"datum":0.978,"type":"quantitative"}}},
 {"data":{"values":[{}]},"mark":{"type":"rule","color":"#6f9fd6","strokeWidth":1},"encoding":{"y":{"datum":5.69,"type":"quantitative"}}}
]},
{"width":63,"height":63,"layer":[
 {"data":{"name":"hist"},"transform":[{"filter":"datum.p=='A'"}],"mark":{"type":"line","interpolate":"step-after","color":"#3b77bd","strokeWidth":1},"encoding":{"x":{"field":"x","type":"quantitative","scale":{"domain":[5.577,5.82],"nice":false,"zero":false},"axis":{"values":[5.58,5.6,5.62,5.64,5.66,5.68,5.7,5.72,5.74,5.76,5.78,5.8],"labels":false,"title":null}},"y":{"field":"n","type":"quantitative","scale":{"domain":[0,1100],"nice":false},"axis":null}}},
 {"data":{"name":"stats"},"transform":[{"filter":"datum.p=='A'&&datum.kind=='q'"}],"mark":{"type":"rule","color":"#3b77bd","strokeDash":[2,1.5],"strokeWidth":0.8},"encoding":{"x":{"field":"v","type":"quantitative"}}},
 {"data":{"name":"stats"},"transform":[{"filter":"datum.p=='A'&&datum.kind=='t'"}],"mark":{"type":"rule","color":"#6f9fd6","strokeWidth":1},"encoding":{"x":{"field":"v","type":"quantitative"}}},
 {"data":{"values":[{}]},"mark":{"type":"text","text":"A = 5.69e + 00","align":"right","baseline":"alphabetic","dy":-2,"fontSize":9.5},"encoding":{"x":{"datum":5.7737,"type":"quantitative"},"y":{"datum":1100,"type":"quantitative"}}},
 {"data":{"values":[{}]},"mark":{"type":"text","text":"+2.45e − 02","align":"left","baseline":"alphabetic","dx":1,"dy":-5.5,"fontSize":4.8},"encoding":{"x":{"datum":5.7737,"type":"quantitative"},"y":{"datum":1100,"type":"quantitative"}}},
 {"data":{"values":[{}]},"mark":{"type":"text","text":"−2.43e − 02","align":"left","baseline":"alphabetic","dx":1,"dy":-1,"fontSize":4.8},"encoding":{"x":{"datum":5.7737,"type":"quantitative"},"y":{"datum":1100,"type":"quantitative"}}}
]},
{"width":63,"height":63,"data":{"values":[{}]},"mark":{"type":"point","opacity":0},"view":{"stroke":null}},
{"width":63,"height":63,"data":{"values":[{}]},"mark":{"type":"point","opacity":0},"view":{"stroke":null}},

{"width":63,"height":63,"layer":[
 {"data":{"name":"ell"},"transform":[{"filter":"datum.pr=='14'&&datum.r<=3"}],"mark":{"type":"line","interpolate":"cardinal-closed","fill":"#2f6cb3","strokeWidth":0,"opacity":0.12,"clip":true},"encoding":{"x":{"field":"x","type":"quantitative","scale":{"domain":[1.98,2.46],"nice":false,"zero":false},"axis":{"values":[2,2.0625,2.125,2.1875,2.25,2.3125,2.375,2.4375],"labels":false,"title":null}},"y":{"field":"y","type":"quantitative","scale":{"domain":[6708,7146],"nice":false,"zero":false},"axis":{"values":[6750,6812.5,6875,6937.5,7000,7062.5,7125],"labelExpr":"datum.value==6750||datum.value==7000?format(datum.value,'d'):''","title":"norm"}},"detail":{"field":"r","type":"nominal"},"order":{"field":"k","type":"quantitative"}}},
 {"data":{"name":"ell"},"transform":[{"filter":"datum.pr=='14'&&datum.r==1"}],"mark":{"type":"line","interpolate":"cardinal-closed","fill":"#2f6cb3","strokeWidth":0,"opacity":0.55,"clip":true},"encoding":{"x":{"field":"x","type":"quantitative"},"y":{"field":"y","type":"quantitative"},"order":{"field":"k","type":"quantitative"}}},
 {"data":{"name":"pts"},"transform":[{"filter":"datum.pr=='14'"}],"mark":{"type":"circle","size":3,"color":"#5b8fcc","opacity":0.5,"clip":true},"encoding":{"x":{"field":"x","type":"quantitative"},"y":{"field":"y","type":"quantitative"}}},
 {"data":{"name":"ell"},"transform":[{"filter":"datum.pr=='14'"}],"mark":{"type":"line","interpolate":"cardinal-closed","color":"#3b77bd","strokeWidth":1,"clip":true},"encoding":{"x":{"field":"x","type":"quantitative"},"y":{"field":"y","type":"quantitative"},"detail":{"field":"r","type":"nominal"},"order":{"field":"k","type":"quantitative"}}},
 {"data":{"values":[{}]},"mark":{"type":"rule","color":"#6f9fd6","strokeWidth":1},"encoding":{"x":{"datum":2.23,"type":"quantitative"}}},
 {"data":{"values":[{}]},"mark":{"type":"rule","color":"#6f9fd6","strokeWidth":1},"encoding":{"y":{"datum":6930,"type":"quantitative"}}}
]},
{"width":63,"height":63,"layer":[
 {"data":{"name":"ell"},"transform":[{"filter":"datum.pr=='24'&&datum.r<=3"}],"mark":{"type":"line","interpolate":"cardinal-closed","fill":"#2f6cb3","strokeWidth":0,"opacity":0.12,"clip":true},"encoding":{"x":{"field":"x","type":"quantitative","scale":{"domain":[0.918,1.051],"nice":false,"zero":false},"axis":{"values":[0.92,0.94,0.96,0.98,1,1.02,1.04],"labels":false,"title":null}},"y":{"field":"y","type":"quantitative","scale":{"domain":[6708,7146],"nice":false,"zero":false},"axis":{"values":[6750,6812.5,6875,6937.5,7000,7062.5,7125],"labels":false,"title":null}},"detail":{"field":"r","type":"nominal"},"order":{"field":"k","type":"quantitative"}}},
 {"data":{"name":"ell"},"transform":[{"filter":"datum.pr=='24'&&datum.r==1"}],"mark":{"type":"line","interpolate":"cardinal-closed","fill":"#2f6cb3","strokeWidth":0,"opacity":0.55,"clip":true},"encoding":{"x":{"field":"x","type":"quantitative"},"y":{"field":"y","type":"quantitative"},"order":{"field":"k","type":"quantitative"}}},
 {"data":{"name":"pts"},"transform":[{"filter":"datum.pr=='24'"}],"mark":{"type":"circle","size":3,"color":"#5b8fcc","opacity":0.5,"clip":true},"encoding":{"x":{"field":"x","type":"quantitative"},"y":{"field":"y","type":"quantitative"}}},
 {"data":{"name":"ell"},"transform":[{"filter":"datum.pr=='24'"}],"mark":{"type":"line","interpolate":"cardinal-closed","color":"#3b77bd","strokeWidth":1,"clip":true},"encoding":{"x":{"field":"x","type":"quantitative"},"y":{"field":"y","type":"quantitative"},"detail":{"field":"r","type":"nominal"},"order":{"field":"k","type":"quantitative"}}},
 {"data":{"values":[{}]},"mark":{"type":"rule","color":"#6f9fd6","strokeWidth":1},"encoding":{"x":{"datum":0.978,"type":"quantitative"}}},
 {"data":{"values":[{}]},"mark":{"type":"rule","color":"#6f9fd6","strokeWidth":1},"encoding":{"y":{"datum":6930,"type":"quantitative"}}}
]},
{"width":63,"height":63,"layer":[
 {"data":{"name":"ell"},"transform":[{"filter":"datum.pr=='34'&&datum.r<=3"}],"mark":{"type":"line","interpolate":"cardinal-closed","fill":"#2f6cb3","strokeWidth":0,"opacity":0.12,"clip":true},"encoding":{"x":{"field":"x","type":"quantitative","scale":{"domain":[5.577,5.82],"nice":false,"zero":false},"axis":{"values":[5.58,5.6,5.62,5.64,5.66,5.68,5.7,5.72,5.74,5.76,5.78,5.8],"labels":false,"title":null}},"y":{"field":"y","type":"quantitative","scale":{"domain":[6708,7146],"nice":false,"zero":false},"axis":{"values":[6750,6812.5,6875,6937.5,7000,7062.5,7125],"labels":false,"title":null}},"detail":{"field":"r","type":"nominal"},"order":{"field":"k","type":"quantitative"}}},
 {"data":{"name":"ell"},"transform":[{"filter":"datum.pr=='34'&&datum.r==1"}],"mark":{"type":"line","interpolate":"cardinal-closed","fill":"#2f6cb3","strokeWidth":0,"opacity":0.55,"clip":true},"encoding":{"x":{"field":"x","type":"quantitative"},"y":{"field":"y","type":"quantitative"},"order":{"field":"k","type":"quantitative"}}},
 {"data":{"name":"pts"},"transform":[{"filter":"datum.pr=='34'"}],"mark":{"type":"circle","size":3,"color":"#5b8fcc","opacity":0.5,"clip":true},"encoding":{"x":{"field":"x","type":"quantitative"},"y":{"field":"y","type":"quantitative"}}},
 {"data":{"name":"ell"},"transform":[{"filter":"datum.pr=='34'"}],"mark":{"type":"line","interpolate":"cardinal-closed","color":"#3b77bd","strokeWidth":1,"clip":true},"encoding":{"x":{"field":"x","type":"quantitative"},"y":{"field":"y","type":"quantitative"},"detail":{"field":"r","type":"nominal"},"order":{"field":"k","type":"quantitative"}}},
 {"data":{"values":[{}]},"mark":{"type":"rule","color":"#6f9fd6","strokeWidth":1},"encoding":{"x":{"datum":5.69,"type":"quantitative"}}},
 {"data":{"values":[{}]},"mark":{"type":"rule","color":"#6f9fd6","strokeWidth":1},"encoding":{"y":{"datum":6930,"type":"quantitative"}}}
]},
{"width":63,"height":63,"layer":[
 {"data":{"name":"hist"},"transform":[{"filter":"datum.p=='norm'"}],"mark":{"type":"line","interpolate":"step-after","color":"#3b77bd","strokeWidth":1},"encoding":{"x":{"field":"x","type":"quantitative","scale":{"domain":[6708,7146],"nice":false,"zero":false},"axis":{"values":[6750,6812.5,6875,6937.5,7000,7062.5,7125],"labels":false,"title":null}},"y":{"field":"n","type":"quantitative","scale":{"domain":[0,1100],"nice":false},"axis":null}}},
 {"data":{"name":"stats"},"transform":[{"filter":"datum.p=='norm'&&datum.kind=='q'"}],"mark":{"type":"rule","color":"#3b77bd","strokeDash":[2,1.5],"strokeWidth":0.8},"encoding":{"x":{"field":"v","type":"quantitative"}}},
 {"data":{"name":"stats"},"transform":[{"filter":"datum.p=='norm'&&datum.kind=='t'"}],"mark":{"type":"rule","color":"#6f9fd6","strokeWidth":1},"encoding":{"x":{"field":"v","type":"quantitative"}}},
 {"data":{"values":[{}]},"mark":{"type":"text","text":"norm = 6.93e + 03","align":"right","baseline":"alphabetic","dy":-2,"fontSize":9.5},"encoding":{"x":{"datum":7083.4,"type":"quantitative"},"y":{"datum":1100,"type":"quantitative"}}},
 {"data":{"values":[{}]},"mark":{"type":"text","text":"+4.33e + 01","align":"left","baseline":"alphabetic","dx":1,"dy":-5.5,"fontSize":4.8},"encoding":{"x":{"datum":7083.4,"type":"quantitative"},"y":{"datum":1100,"type":"quantitative"}}},
 {"data":{"values":[{}]},"mark":{"type":"text","text":"−4.27e + 01","align":"left","baseline":"alphabetic","dx":1,"dy":-1,"fontSize":4.8},"encoding":{"x":{"datum":7083.4,"type":"quantitative"},"y":{"datum":1100,"type":"quantitative"}}}
]},
{"width":63,"height":63,"data":{"values":[{}]},"mark":{"type":"point","opacity":0},"view":{"stroke":null}},

{"width":63,"height":63,"layer":[
 {"data":{"name":"ell"},"transform":[{"filter":"datum.pr=='15'&&datum.r<=3"}],"mark":{"type":"line","interpolate":"cardinal-closed","fill":"#2f6cb3","strokeWidth":0,"opacity":0.12,"clip":true},"encoding":{"x":{"field":"x","type":"quantitative","scale":{"domain":[1.98,2.46],"nice":false,"zero":false},"axis":{"values":[2,2.0625,2.125,2.1875,2.25,2.3125,2.375,2.4375],"labelExpr":"datum.value==2||datum.value==2.25?format(datum.value,'.2f'):''","title":"τ₁"}},"y":{"field":"y","type":"quantitative","scale":{"domain":[0.045,0.108],"nice":false,"zero":false},"axis":{"values":[0.05,0.0575,0.065,0.0725,0.08,0.0875,0.095,0.1025],"labelExpr":"datum.value==0.05||datum.value==0.08?format(datum.value,'.2f'):''","title":"tₚₑₐₖ"}},"detail":{"field":"r","type":"nominal"},"order":{"field":"k","type":"quantitative"}}},
 {"data":{"name":"ell"},"transform":[{"filter":"datum.pr=='15'&&datum.r==1"}],"mark":{"type":"line","interpolate":"cardinal-closed","fill":"#2f6cb3","strokeWidth":0,"opacity":0.55,"clip":true},"encoding":{"x":{"field":"x","type":"quantitative"},"y":{"field":"y","type":"quantitative"},"order":{"field":"k","type":"quantitative"}}},
 {"data":{"name":"pts"},"transform":[{"filter":"datum.pr=='15'"}],"mark":{"type":"circle","size":3,"color":"#5b8fcc","opacity":0.5,"clip":true},"encoding":{"x":{"field":"x","type":"quantitative"},"y":{"field":"y","type":"quantitative"}}},
 {"data":{"name":"ell"},"transform":[{"filter":"datum.pr=='15'"}],"mark":{"type":"line","interpolate":"cardinal-closed","color":"#3b77bd","strokeWidth":1,"clip":true},"encoding":{"x":{"field":"x","type":"quantitative"},"y":{"field":"y","type":"quantitative"},"detail":{"field":"r","type":"nominal"},"order":{"field":"k","type":"quantitative"}}},
 {"data":{"values":[{}]},"mark":{"type":"rule","color":"#6f9fd6","strokeWidth":1},"encoding":{"x":{"datum":2.23,"type":"quantitative"}}},
 {"data":{"values":[{}]},"mark":{"type":"rule","color":"#6f9fd6","strokeWidth":1},"encoding":{"y":{"datum":0.077,"type":"quantitative"}}},
 {"data":{"values":[{}]},"mark":{"type":"text","text":"+5.105e2","align":"left","baseline":"alphabetic","dy":-1.5,"fontSize":5},"encoding":{"x":{"datum":1.98,"type":"quantitative"},"y":{"datum":0.108,"type":"quantitative"}}}
]},
{"width":63,"height":63,"layer":[
 {"data":{"name":"ell"},"transform":[{"filter":"datum.pr=='25'&&datum.r<=3"}],"mark":{"type":"line","interpolate":"cardinal-closed","fill":"#2f6cb3","strokeWidth":0,"opacity":0.12,"clip":true},"encoding":{"x":{"field":"x","type":"quantitative","scale":{"domain":[0.918,1.051],"nice":false,"zero":false},"axis":{"values":[0.92,0.94,0.96,0.98,1,1.02,1.04],"labelExpr":"datum.value==0.96||datum.value==1.04?format(datum.value,'.2f'):''","title":"τ₂"}},"y":{"field":"y","type":"quantitative","scale":{"domain":[0.045,0.108],"nice":false,"zero":false},"axis":{"values":[0.05,0.0575,0.065,0.0725,0.08,0.0875,0.095,0.1025],"labels":false,"title":null}},"detail":{"field":"r","type":"nominal"},"order":{"field":"k","type":"quantitative"}}},
 {"data":{"name":"ell"},"transform":[{"filter":"datum.pr=='25'&&datum.r==1"}],"mark":{"type":"line","interpolate":"cardinal-closed","fill":"#2f6cb3","strokeWidth":0,"opacity":0.55,"clip":true},"encoding":{"x":{"field":"x","type":"quantitative"},"y":{"field":"y","type":"quantitative"},"order":{"field":"k","type":"quantitative"}}},
 {"data":{"name":"pts"},"transform":[{"filter":"datum.pr=='25'"}],"mark":{"type":"circle","size":3,"color":"#5b8fcc","opacity":0.5,"clip":true},"encoding":{"x":{"field":"x","type":"quantitative"},"y":{"field":"y","type":"quantitative"}}},
 {"data":{"name":"ell"},"transform":[{"filter":"datum.pr=='25'"}],"mark":{"type":"line","interpolate":"cardinal-closed","color":"#3b77bd","strokeWidth":1,"clip":true},"encoding":{"x":{"field":"x","type":"quantitative"},"y":{"field":"y","type":"quantitative"},"detail":{"field":"r","type":"nominal"},"order":{"field":"k","type":"quantitative"}}},
 {"data":{"values":[{}]},"mark":{"type":"rule","color":"#6f9fd6","strokeWidth":1},"encoding":{"x":{"datum":0.978,"type":"quantitative"}}},
 {"data":{"values":[{}]},"mark":{"type":"rule","color":"#6f9fd6","strokeWidth":1},"encoding":{"y":{"datum":0.077,"type":"quantitative"}}}
]},
{"width":63,"height":63,"layer":[
 {"data":{"name":"ell"},"transform":[{"filter":"datum.pr=='35'&&datum.r<=3"}],"mark":{"type":"line","interpolate":"cardinal-closed","fill":"#2f6cb3","strokeWidth":0,"opacity":0.12,"clip":true},"encoding":{"x":{"field":"x","type":"quantitative","scale":{"domain":[5.577,5.82],"nice":false,"zero":false},"axis":{"values":[5.58,5.6,5.62,5.64,5.66,5.68,5.7,5.72,5.74,5.76,5.78,5.8],"labelExpr":"datum.value==5.6||datum.value==5.7||datum.value==5.8?format(datum.value,'.1f'):''","title":"A"}},"y":{"field":"y","type":"quantitative","scale":{"domain":[0.045,0.108],"nice":false,"zero":false},"axis":{"values":[0.05,0.0575,0.065,0.0725,0.08,0.0875,0.095,0.1025],"labels":false,"title":null}},"detail":{"field":"r","type":"nominal"},"order":{"field":"k","type":"quantitative"}}},
 {"data":{"name":"ell"},"transform":[{"filter":"datum.pr=='35'&&datum.r==1"}],"mark":{"type":"line","interpolate":"cardinal-closed","fill":"#2f6cb3","strokeWidth":0,"opacity":0.55,"clip":true},"encoding":{"x":{"field":"x","type":"quantitative"},"y":{"field":"y","type":"quantitative"},"order":{"field":"k","type":"quantitative"}}},
 {"data":{"name":"pts"},"transform":[{"filter":"datum.pr=='35'"}],"mark":{"type":"circle","size":3,"color":"#5b8fcc","opacity":0.5,"clip":true},"encoding":{"x":{"field":"x","type":"quantitative"},"y":{"field":"y","type":"quantitative"}}},
 {"data":{"name":"ell"},"transform":[{"filter":"datum.pr=='35'"}],"mark":{"type":"line","interpolate":"cardinal-closed","color":"#3b77bd","strokeWidth":1,"clip":true},"encoding":{"x":{"field":"x","type":"quantitative"},"y":{"field":"y","type":"quantitative"},"detail":{"field":"r","type":"nominal"},"order":{"field":"k","type":"quantitative"}}},
 {"data":{"values":[{}]},"mark":{"type":"rule","color":"#6f9fd6","strokeWidth":1},"encoding":{"x":{"datum":5.69,"type":"quantitative"}}},
 {"data":{"values":[{}]},"mark":{"type":"rule","color":"#6f9fd6","strokeWidth":1},"encoding":{"y":{"datum":0.077,"type":"quantitative"}}}
]},
{"width":63,"height":63,"layer":[
 {"data":{"name":"ell"},"transform":[{"filter":"datum.pr=='45'&&datum.r<=3"}],"mark":{"type":"line","interpolate":"cardinal-closed","fill":"#2f6cb3","strokeWidth":0,"opacity":0.12,"clip":true},"encoding":{"x":{"field":"x","type":"quantitative","scale":{"domain":[6708,7146],"nice":false,"zero":false},"axis":{"values":[6750,6812.5,6875,6937.5,7000,7062.5,7125],"labelExpr":"datum.value==6750||datum.value==7000?format(datum.value,'d'):''","title":"norm"}},"y":{"field":"y","type":"quantitative","scale":{"domain":[0.045,0.108],"nice":false,"zero":false},"axis":{"values":[0.05,0.0575,0.065,0.0725,0.08,0.0875,0.095,0.1025],"labels":false,"title":null}},"detail":{"field":"r","type":"nominal"},"order":{"field":"k","type":"quantitative"}}},
 {"data":{"name":"ell"},"transform":[{"filter":"datum.pr=='45'&&datum.r==1"}],"mark":{"type":"line","interpolate":"cardinal-closed","fill":"#2f6cb3","strokeWidth":0,"opacity":0.55,"clip":true},"encoding":{"x":{"field":"x","type":"quantitative"},"y":{"field":"y","type":"quantitative"},"order":{"field":"k","type":"quantitative"}}},
 {"data":{"name":"pts"},"transform":[{"filter":"datum.pr=='45'"}],"mark":{"type":"circle","size":3,"color":"#5b8fcc","opacity":0.5,"clip":true},"encoding":{"x":{"field":"x","type":"quantitative"},"y":{"field":"y","type":"quantitative"}}},
 {"data":{"name":"ell"},"transform":[{"filter":"datum.pr=='45'"}],"mark":{"type":"line","interpolate":"cardinal-closed","color":"#3b77bd","strokeWidth":1,"clip":true},"encoding":{"x":{"field":"x","type":"quantitative"},"y":{"field":"y","type":"quantitative"},"detail":{"field":"r","type":"nominal"},"order":{"field":"k","type":"quantitative"}}},
 {"data":{"values":[{}]},"mark":{"type":"rule","color":"#6f9fd6","strokeWidth":1},"encoding":{"x":{"datum":6930,"type":"quantitative"}}},
 {"data":{"values":[{}]},"mark":{"type":"rule","color":"#6f9fd6","strokeWidth":1},"encoding":{"y":{"datum":0.077,"type":"quantitative"}}}
]},
{"width":63,"height":63,"layer":[
 {"data":{"name":"hist"},"transform":[{"filter":"datum.p=='tp'"}],"mark":{"type":"line","interpolate":"step-after","color":"#3b77bd","strokeWidth":1},"encoding":{"x":{"field":"x","type":"quantitative","scale":{"domain":[0.045,0.108],"nice":false,"zero":false},"axis":{"values":[0.05,0.0575,0.065,0.0725,0.08,0.0875,0.095,0.1025],"labelExpr":"datum.value==0.05||datum.value==0.08?format(datum.value,'.2f'):''","title":"tₚₑₐₖ"}},"y":{"field":"n","type":"quantitative","scale":{"domain":[0,1100],"nice":false},"axis":null}}},
 {"data":{"name":"stats"},"transform":[{"filter":"datum.p=='tp'&&datum.kind=='q'"}],"mark":{"type":"rule","color":"#3b77bd","strokeDash":[2,1.5],"strokeWidth":0.8},"encoding":{"x":{"field":"v","type":"quantitative"}}},
 {"data":{"name":"stats"},"transform":[{"filter":"datum.p=='tp'&&datum.kind=='t'"}],"mark":{"type":"rule","color":"#6f9fd6","strokeWidth":1},"encoding":{"x":{"field":"v","type":"quantitative"}}},
 {"data":{"values":[{}]},"mark":{"type":"text","text":"tₚₑₐₖ = 5.11e + 02","align":"right","baseline":"alphabetic","dy":-2,"fontSize":9.5},"encoding":{"x":{"datum":0.097,"type":"quantitative"},"y":{"datum":1100,"type":"quantitative"}}},
 {"data":{"values":[{}]},"mark":{"type":"text","text":"+6.40e − 03","align":"left","baseline":"alphabetic","dx":1,"dy":-5.5,"fontSize":4.6},"encoding":{"x":{"datum":0.097,"type":"quantitative"},"y":{"datum":1100,"type":"quantitative"}}},
 {"data":{"values":[{}]},"mark":{"type":"text","text":"−6.45e − 03","align":"left","baseline":"alphabetic","dx":1,"dy":-1,"fontSize":4.6},"encoding":{"x":{"datum":0.097,"type":"quantitative"},"y":{"datum":1100,"type":"quantitative"}}},
 {"data":{"values":[{}]},"mark":{"type":"text","text":"+5.105e2","align":"right","baseline":"middle","dy":21,"fontSize":5},"encoding":{"x":{"datum":0.108,"type":"quantitative"},"y":{"datum":0,"type":"quantitative"}}}
]}
]
}
